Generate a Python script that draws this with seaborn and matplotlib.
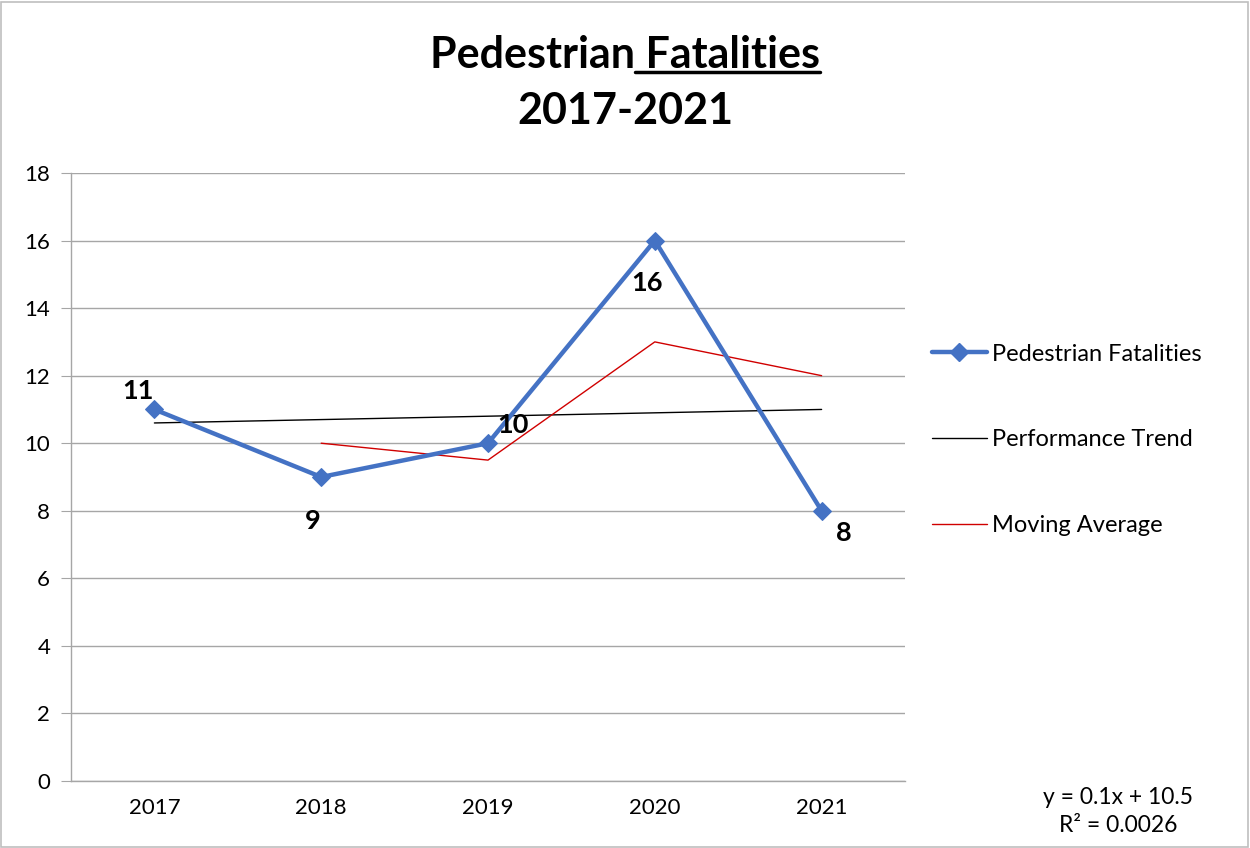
import matplotlib
matplotlib.use("Agg")
import matplotlib.pyplot as plt
import seaborn as sns
import pandas as pd
from matplotlib.lines import Line2D
from matplotlib.patches import Rectangle

sns.set_style("white")
plt.rcParams['font.family'] = ['Lato', 'DejaVu Sans']
plt.rcParams['text.color'] = 'black'
plt.rcParams['xtick.color'] = 'black'
plt.rcParams['ytick.color'] = 'black'

# data
years = [2017, 2018, 2019, 2020, 2021]
fatalities = [11, 9, 10, 16, 8]
trend = [10.6, 10.7, 10.8, 10.9, 11.0]
moving_avg_years = [2018, 2019, 2020, 2021]
moving_avg = [10, 9.5, 13, 12]
y_ticks = [0, 2, 4, 6, 8, 10, 12, 14, 16, 18]

blue = '#4472C4'
red = '#D00000'
grid_gray = '#A6A6A6'

df = pd.DataFrame({'Year': years, 'Fatalities': fatalities})

fig = plt.figure(figsize=(12.5, 8.48), dpi=100)
ax = fig.add_axes([71 / 1250, 1 - 781 / 848, (905 - 71) / 1250, (781 - 173) / 848])

sns.lineplot(data=df, x='Year', y='Fatalities', ax=ax, color=blue, linewidth=3.2,
             marker='D', markersize=9, markeredgecolor=blue, zorder=4)
sns.lineplot(x=years, y=trend, ax=ax, color='black', linewidth=1, zorder=3)
sns.lineplot(x=moving_avg_years, y=moving_avg, ax=ax, color=red, linewidth=1, zorder=3)

# data labels
offsets = [(-16, 18), (-8, -44), (25, 18), (-8, -42), (22, -22)]
for yr, v, (dx, dy) in zip(years, fatalities, offsets):
    ax.annotate(str(v), (yr, v), xytext=(dx, dy), textcoords='offset pixels',
                ha='center', va='center', fontsize=19.5, fontweight='bold', zorder=5)

ax.set_xlim(2016.5, 2021.5)
ax.set_ylim(0, 18)
ax.set_yticks(y_ticks)
ax.set_xticks(years)
ax.set_xticklabels([str(y) for y in years])
ax.set_xticks([y - 0.5 for y in years] + [years[-1] + 0.5], minor=True)
ax.tick_params(axis='x', which='major', length=0, labelsize=16, pad=12)
ax.tick_params(axis='x', which='minor', length=7, color=grid_gray, direction='out')
ax.tick_params(axis='y', length=7, color=grid_gray, labelsize=16, pad=8, left=True)
ax.yaxis.grid(True, color=grid_gray, linewidth=1)
ax.xaxis.grid(False)
ax.set_xlabel('')
ax.set_ylabel('')
for s in ['top', 'right']:
    ax.spines[s].set_visible(False)
for s in ['left', 'bottom']:
    ax.spines[s].set_color(grid_gray)
    ax.spines[s].set_linewidth(1)

# legend
handles = [
    Line2D([0], [0], color=blue, linewidth=3.2, marker='D', markersize=9),
    Line2D([0], [0], color='black', linewidth=1),
    Line2D([0], [0], color=red, linewidth=1),
]
labels = ['Pedestrian Fatalities', 'Performance Trend', 'Moving Average']
fig.legend(handles, labels, loc='center left', bbox_to_anchor=(911 / 1250, 1 - 440 / 848),
           frameon=False, fontsize=17, handlelength=2.3, handletextpad=0.25,
           labelspacing=2.75)

# title with underline under " Fatalities"
title_y = 1 - 55 / 848
t = fig.text(0.5, title_y, 'Pedestrian Fatalities', ha='center', va='center',
             fontsize=31, fontweight='bold')
fig.text(0.5, 1 - 111 / 848, '2017-2021', ha='center', va='center',
         fontsize=31, fontweight='bold')
fig.canvas.draw()
renderer = fig.canvas.get_renderer()
bb = t.get_window_extent(renderer)
tmp = fig.text(0, 0, 'Pedestrian', fontsize=31, fontweight='bold')
w_first = tmp.get_window_extent(renderer).width
tmp.remove()
x0 = (bb.x0 + w_first) / 1250
x1 = bb.x1 / 1250
yl = (bb.y0 + 3) / 848
fig.add_artist(Line2D([x0, x1], [yl, yl], color='black', linewidth=2.5,
                      transform=fig.transFigure))

# trendline equation
fig.text(1118 / 1250, 1 - 797 / 848, 'y = 0.1x + 10.5', ha='center', va='center', fontsize=16.5)
fig.text(1118 / 1250, 1 - 826 / 848, 'R² = 0.0026', ha='center', va='center', fontsize=16.5)

# chart border
fig.add_artist(Rectangle((0.001, 0.001), 0.997, 0.997, transform=fig.transFigure,
                         fill=False, edgecolor='#BFBFBF', linewidth=1.2))

fig.savefig('out.png', dpi=100)
